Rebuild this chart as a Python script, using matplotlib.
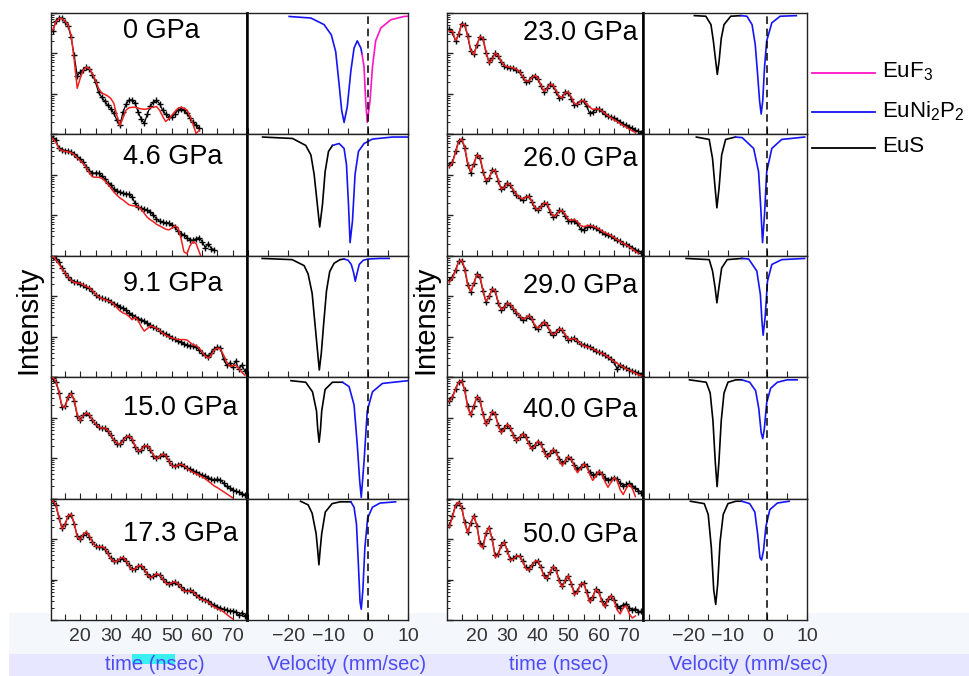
import numpy as np
import matplotlib
matplotlib.use('Agg')
import matplotlib.pyplot as plt
from matplotlib.ticker import (MultipleLocator, FixedLocator, LogLocator, NullFormatter,
                               NullLocator)
from matplotlib.patches import Rectangle
from matplotlib.lines import Line2D

plt.rcParams['font.family'] = ['Liberation Sans', 'DejaVu Sans']
plt.rcParams['mathtext.fontset'] = 'custom'
plt.rcParams['mathtext.rm'] = 'Liberation Sans'
plt.rcParams['mathtext.it'] = 'Liberation Sans:italic'
plt.rcParams['mathtext.bf'] = 'Liberation Sans:bold'

# ---------------- data ----------------
time_ns = list(range(11, 75))   # sampling times (ns) of the values below
time_ticks = [20, 30, 40, 50, 60, 70]
vel_ticks = [-20, -10, 0, 10]

pressures_left = ['0 GPa', '4.6 GPa', '9.1 GPa', '15.0 GPa', '17.3 GPa']
pressures_right = ['23.0 GPa', '26.0 GPa', '29.0 GPa', '40.0 GPa', '50.0 GPa']

# log10 intensity (arb.) : measured data and fit
p00_dat = [2.55, 2.80, 2.88, 2.87, 2.78, 2.68, 2.40, 1.95, 1.45, 1.54, 1.60, 1.66, 1.62, 1.48, 1.29, 1.04, 0.92, 0.82, 0.72, 0.64, 0.52, 0.35, 0.22, 0.55, 0.74, 0.85, 0.85, 0.77, 0.55, 0.38, 0.27, 0.50, 0.70, 0.80, 0.84, 0.76, 0.60, 0.50, 0.44, 0.42, 0.50, 0.60, 0.64, 0.60, 0.52, 0.40, 0.30, 0.22, 0.15]
p00_fit = [2.58, 2.78, 2.87, 2.86, 2.80, 2.70, 2.45, 1.85, 1.14, 1.39, 1.59, 1.66, 1.63, 1.50, 1.34, 1.14, 1.02, 0.99, 0.95, 0.89, 0.77, 0.47, 0.22, 0.40, 0.60, 0.66, 0.67, 0.67, 0.65, 0.63, 0.62, 0.63, 0.66, 0.67, 0.69, 0.60, 0.45, 0.32, 0.38, 0.47, 0.56, 0.64, 0.67, 0.65, 0.60, 0.45, 0.25, 0.02, 0.10]

p46_dat = [2.92, 2.85, 2.66, 2.62, 2.60, 2.59, 2.56, 2.52, 2.45, 2.38, 2.31, 2.20, 2.10, 2.04, 2.05, 2.04, 1.98, 1.90, 1.80, 1.75, 1.65, 1.60, 1.57, 1.55, 1.53, 1.52, 1.45, 1.30, 1.20, 1.18, 1.15, 1.12, 1.09, 1.00, 0.92, 0.85, 0.83, 0.82, 0.81, 0.76, 0.70, 0.62, 0.55, 0.52, 0.45, 0.40, 0.38, 0.42, 0.45, 0.35, 0.20, 0.30, 0.18, 0.15]
p46_fit = [2.90, 2.80, 2.65, 2.60, 2.58, 2.57, 2.55, 2.50, 2.42, 2.35, 2.28, 2.18, 2.05, 1.95, 1.94, 1.94, 1.92, 1.86, 1.78, 1.68, 1.58, 1.50, 1.43, 1.38, 1.32, 1.26, 1.24, 1.23, 1.21, 1.15, 1.05, 0.95, 0.89, 0.84, 0.78, 0.74, 0.70, 0.66, 0.64, 0.68, 0.74, 0.70, 0.45, 0.10, 0.05, 0.25, 0.35, 0.30, 0.10, -0.10]

p91_dat = [3.00, 2.93, 2.85, 2.70, 2.58, 2.47, 2.40, 2.36, 2.35, 2.31, 2.27, 2.23, 2.20, 2.12, 2.04, 1.98, 1.95, 1.93, 1.90, 1.86, 1.82, 1.78, 1.74, 1.71, 1.65, 1.58, 1.54, 1.50, 1.45, 1.42, 1.39, 1.33, 1.28, 1.24, 1.21, 1.15, 1.10, 1.06, 1.02, 0.97, 0.94, 0.90, 0.86, 0.82, 0.80, 0.78, 0.76, 0.74, 0.68, 0.60, 0.55, 0.50, 0.60, 0.70, 0.74, 0.72, 0.45, 0.30, 0.35, 0.25, 0.40, 0.20, 0.30, 0.15]
p91_fit = [3.00, 2.90, 2.80, 2.68, 2.58, 2.48, 2.39, 2.34, 2.33, 2.32, 2.28, 2.24, 2.21, 2.14, 2.05, 1.98, 1.95, 1.92, 1.89, 1.86, 1.80, 1.72, 1.64, 1.59, 1.56, 1.50, 1.42, 1.48, 1.40, 1.25, 1.14, 1.20, 1.27, 1.24, 1.21, 1.15, 1.09, 1.04, 1.00, 0.97, 0.95, 0.93, 0.93, 0.93, 0.92, 0.86, 0.80, 0.78, 0.72, 0.62, 0.52, 0.47, 0.55, 0.68, 0.72, 0.70, 0.55, 0.38, 0.27, 0.28, 0.30, 0.22, 0.12, 0.05]

p150_dat = [2.98, 2.88, 2.62, 2.26, 2.28, 2.52, 2.60, 2.42, 2.05, 1.94, 2.06, 2.11, 2.06, 1.93, 1.84, 1.76, 1.75, 1.74, 1.68, 1.56, 1.44, 1.36, 1.35, 1.44, 1.53, 1.54, 1.46, 1.28, 1.18, 1.21, 1.31, 1.30, 1.20, 1.06, 1.00, 1.05, 1.09, 1.05, 0.94, 0.83, 0.80, 0.83, 0.86, 0.80, 0.76, 0.72, 0.68, 0.66, 0.62, 0.58, 0.55, 0.52, 0.48, 0.46, 0.48, 0.46, 0.38, 0.30, 0.25, 0.22, 0.18, 0.17, 0.12, 0.10]
p150_fit = [3.00, 2.90, 2.65, 2.28, 2.25, 2.50, 2.60, 2.45, 2.08, 1.92, 2.05, 2.12, 2.08, 1.95, 1.85, 1.77, 1.74, 1.75, 1.70, 1.58, 1.45, 1.37, 1.34, 1.42, 1.52, 1.55, 1.48, 1.30, 1.17, 1.20, 1.30, 1.31, 1.22, 1.07, 0.98, 1.04, 1.10, 1.07, 0.95, 0.82, 0.78, 0.82, 0.85, 0.82, 0.75, 0.69, 0.65, 0.61, 0.58, 0.54, 0.49, 0.43, 0.37, 0.31, 0.27, 0.22, 0.17, 0.12, 0.07, 0.02]

p173_dat = [2.93, 2.83, 2.52, 2.27, 2.37, 2.57, 2.60, 2.38, 2.07, 2.00, 2.11, 2.16, 2.06, 1.93, 1.84, 1.81, 1.81, 1.76, 1.65, 1.53, 1.46, 1.46, 1.51, 1.53, 1.46, 1.35, 1.26, 1.27, 1.33, 1.33, 1.25, 1.13, 1.06, 1.09, 1.13, 1.10, 1.02, 0.94, 0.90, 0.92, 0.94, 0.89, 0.81, 0.75, 0.72, 0.73, 0.70, 0.63, 0.56, 0.52, 0.50, 0.47, 0.40, 0.36, 0.32, 0.30, 0.26, 0.24, 0.22, 0.23, 0.20, 0.12, 0.18, 0.10]
p173_fit = [2.95, 2.85, 2.55, 2.25, 2.35, 2.58, 2.62, 2.40, 2.05, 1.98, 2.12, 2.18, 2.08, 1.92, 1.82, 1.80, 1.82, 1.78, 1.66, 1.52, 1.44, 1.45, 1.52, 1.55, 1.48, 1.34, 1.24, 1.26, 1.34, 1.35, 1.26, 1.12, 1.04, 1.08, 1.14, 1.12, 1.02, 0.92, 0.88, 0.92, 0.95, 0.90, 0.80, 0.72, 0.70, 0.72, 0.70, 0.62, 0.54, 0.50, 0.48, 0.44, 0.37, 0.32, 0.28, 0.25, 0.20, 0.14, 0.08, 0.03]

p230_dat = [2.60, 2.52, 2.30, 2.48, 2.74, 2.70, 2.42, 2.05, 1.98, 2.22, 2.40, 2.35, 2.02, 1.78, 1.88, 2.00, 1.94, 1.78, 1.69, 1.66, 1.65, 1.63, 1.60, 1.54, 1.42, 1.30, 1.33, 1.42, 1.45, 1.37, 1.20, 1.06, 1.14, 1.25, 1.20, 1.05, 0.90, 0.92, 1.05, 1.03, 0.88, 0.72, 0.76, 0.83, 0.82, 0.70, 0.52, 0.55, 0.62, 0.64, 0.57, 0.50, 0.46, 0.43, 0.40, 0.36, 0.30, 0.25, 0.22, 0.18, 0.15, 0.10, 0.08, 0.04]
p230_fit = [2.55, 2.55, 2.32, 2.45, 2.72, 2.72, 2.45, 2.08, 1.97, 2.20, 2.42, 2.38, 2.05, 1.76, 1.85, 2.01, 1.96, 1.80, 1.70, 1.67, 1.66, 1.64, 1.61, 1.56, 1.44, 1.32, 1.31, 1.40, 1.46, 1.40, 1.22, 1.07, 1.12, 1.24, 1.22, 1.08, 0.94, 0.90, 1.03, 1.05, 0.92, 0.76, 0.74, 0.82, 0.84, 0.76, 0.67, 0.62, 0.63, 0.63, 0.58, 0.52, 0.46, 0.41, 0.36, 0.32, 0.27, 0.22, 0.18, 0.13, 0.09, 0.05]

p260_dat = [2.25, 2.32, 2.58, 2.84, 2.88, 2.66, 2.25, 2.05, 2.28, 2.50, 2.42, 2.08, 1.84, 1.92, 2.12, 2.10, 1.85, 1.64, 1.70, 1.80, 1.74, 1.60, 1.50, 1.42, 1.38, 1.46, 1.47, 1.34, 1.17, 1.12, 1.22, 1.30, 1.27, 1.08, 0.96, 1.02, 1.12, 1.10, 0.98, 0.86, 0.85, 0.86, 0.80, 0.66, 0.64, 0.70, 0.74, 0.72, 0.68, 0.63, 0.58, 0.55, 0.52, 0.48, 0.44, 0.40, 0.36, 0.30, 0.28, 0.24, 0.20, 0.15, 0.12, 0.08]
p260_fit = [2.20, 2.30, 2.55, 2.82, 2.89, 2.70, 2.30, 2.08, 2.25, 2.50, 2.45, 2.12, 1.86, 1.90, 2.10, 2.12, 1.88, 1.65, 1.68, 1.79, 1.76, 1.62, 1.52, 1.44, 1.40, 1.45, 1.47, 1.36, 1.20, 1.13, 1.20, 1.30, 1.30, 1.12, 0.98, 1.00, 1.10, 1.12, 1.02, 0.90, 0.88, 0.90, 0.84, 0.75, 0.72, 0.74, 0.75, 0.73, 0.70, 0.66, 0.61, 0.57, 0.54, 0.50, 0.45, 0.40, 0.35, 0.31, 0.27, 0.22, 0.17, 0.11, 0.06]

p290_dat = [2.40, 2.48, 2.65, 2.86, 2.88, 2.66, 2.27, 2.10, 2.32, 2.55, 2.47, 2.12, 1.86, 2.00, 2.18, 2.12, 1.83, 1.66, 1.74, 1.84, 1.78, 1.68, 1.58, 1.50, 1.42, 1.47, 1.52, 1.43, 1.25, 1.20, 1.30, 1.37, 1.28, 1.12, 1.04, 1.12, 1.20, 1.16, 1.03, 0.92, 0.95, 0.97, 0.90, 0.82, 0.80, 0.78, 0.75, 0.70, 0.65, 0.62, 0.60, 0.56, 0.50, 0.44, 0.38, 0.20, 0.30, 0.26, 0.22, 0.18, 0.16, 0.12, 0.10, 0.06]
p290_fit = [2.35, 2.45, 2.62, 2.85, 2.90, 2.70, 2.30, 2.12, 2.30, 2.54, 2.50, 2.15, 1.88, 1.98, 2.18, 2.15, 1.86, 1.67, 1.72, 1.83, 1.80, 1.70, 1.60, 1.52, 1.44, 1.46, 1.53, 1.46, 1.28, 1.21, 1.28, 1.37, 1.30, 1.14, 1.05, 1.10, 1.19, 1.18, 1.05, 0.93, 0.94, 0.96, 0.90, 0.83, 0.78, 0.75, 0.73, 0.70, 0.66, 0.62, 0.59, 0.55, 0.50, 0.45, 0.39, 0.34, 0.30, 0.25, 0.21, 0.17, 0.14, 0.10, 0.06, 0.03]

p400_dat = [2.42, 2.52, 2.72, 2.88, 2.90, 2.68, 2.28, 2.08, 2.30, 2.50, 2.42, 2.10, 1.86, 1.96, 2.13, 2.08, 1.82, 1.66, 1.74, 1.82, 1.74, 1.57, 1.46, 1.52, 1.60, 1.53, 1.38, 1.26, 1.32, 1.41, 1.35, 1.18, 1.06, 1.12, 1.21, 1.14, 0.98, 0.87, 0.93, 1.02, 0.97, 0.82, 0.72, 0.78, 0.86, 0.80, 0.66, 0.58, 0.60, 0.66, 0.62, 0.52, 0.45, 0.48, 0.52, 0.48, 0.38, 0.32, 0.35, 0.38, 0.32, 0.25, 0.20, 0.15]
p400_fit = [2.40, 2.50, 2.70, 2.88, 2.92, 2.70, 2.25, 2.05, 2.28, 2.52, 2.45, 2.08, 1.82, 1.95, 2.15, 2.10, 1.80, 1.62, 1.72, 1.84, 1.76, 1.55, 1.42, 1.50, 1.60, 1.55, 1.36, 1.22, 1.30, 1.42, 1.36, 1.15, 1.02, 1.10, 1.22, 1.15, 0.95, 0.82, 0.92, 1.04, 0.98, 0.78, 0.64, 0.74, 0.86, 0.80, 0.60, 0.45, 0.55, 0.68, 0.62, 0.42, 0.28, 0.40, 0.52, 0.45, 0.22, 0.10, 0.25, 0.35, 0.25, 0.05]

p500_dat = [2.35, 2.58, 2.84, 2.90, 2.78, 2.42, 2.18, 2.40, 2.56, 2.33, 1.90, 1.84, 2.15, 2.28, 2.00, 1.60, 1.64, 1.86, 1.92, 1.70, 1.50, 1.52, 1.58, 1.58, 1.46, 1.30, 1.25, 1.35, 1.44, 1.45, 1.30, 1.10, 1.05, 1.18, 1.31, 1.24, 0.98, 0.85, 0.98, 1.08, 0.90, 0.66, 0.72, 0.88, 0.92, 0.70, 0.50, 0.58, 0.76, 0.70, 0.48, 0.38, 0.52, 0.60, 0.50, 0.35, 0.30, 0.38, 0.40, 0.30, 0.25, 0.28, 0.20, 0.22]
p500_fit = [2.30, 2.55, 2.82, 2.92, 2.80, 2.40, 2.14, 2.40, 2.58, 2.35, 1.85, 1.78, 2.15, 2.30, 2.00, 1.55, 1.60, 1.85, 1.93, 1.70, 1.47, 1.50, 1.58, 1.59, 1.45, 1.28, 1.22, 1.34, 1.45, 1.47, 1.30, 1.08, 1.02, 1.18, 1.32, 1.25, 0.95, 0.81, 0.98, 1.10, 0.90, 0.62, 0.68, 0.88, 0.92, 0.68, 0.44, 0.55, 0.76, 0.70, 0.45, 0.32, 0.50, 0.61, 0.48, 0.25, 0.15, 0.30, 0.35, 0.15, 0.05, 0.10]

# velocity spectra (relative transmission), by component
v00_ni = [-19.75, -14.3, -11.0, -9.2, -8.1, -7.25, -6.6, -6.0, -5.2, -4.3, -3.5, -2.7, -1.8, -1.5]
T00_ni = [0.983, 0.97, 0.915, 0.83, 0.69, 0.42, 0.20, 0.10, 0.23, 0.53, 0.72, 0.78, 0.72, 0.67]
v00_f3 = [-1.5, -1.0, -0.6, -0.2, 0.5, 1.1, 1.9, 3.2, 5.7, 9.0, 10.0]
T00_f3 = [0.67, 0.56, 0.28, 0.10, 0.28, 0.56, 0.78, 0.887, 0.956, 0.983, 0.985]

v46_s = [-26.4, -18.9, -15.6, -14.3, -13.5, -12.7, -12.1, -11.4, -10.75, -9.9, -8.9]
T46_s = [0.99, 0.978, 0.92, 0.84, 0.68, 0.43, 0.24, 0.43, 0.70, 0.87, 0.92]
v46_ni = [-8.9, -7.25, -6.0, -5.4, -4.9, -4.5, -3.9, -3.25, -2.4, -1.0, 1.1, 6.1, 10.0]
T46_ni = [0.92, 0.936, 0.895, 0.76, 0.43, 0.11, 0.29, 0.68, 0.87, 0.936, 0.973, 0.99, 0.99]

v91_s = [-26.5, -19.0, -16.0, -15.0, -14.0, -13.3, -12.6, -12.2, -11.7, -11.1, -10.4, -9.6, -8.5, -7.0, -6.0]
T91_s = [0.99, 0.98, 0.93, 0.86, 0.70, 0.45, 0.20, 0.06, 0.20, 0.45, 0.72, 0.88, 0.95, 0.98, 0.985]
v91_ni = [-6.0, -5.0, -4.2, -3.6, -3.2, -2.8, -2.2, -1.2, 0.0, 3.0, 5.3]
T91_ni = [0.985, 0.975, 0.94, 0.87, 0.80, 0.86, 0.94, 0.975, 0.985, 0.99, 0.99]

v150_s = [-19.3, -15.6, -13.9, -12.9, -12.6, -12.25, -11.9, -11.6, -10.75, -8.9, -6.4]
T150_s = [0.983, 0.97, 0.89, 0.73, 0.58, 0.47, 0.58, 0.73, 0.91, 0.97, 0.97]
v150_ni = [-6.4, -4.75, -3.5, -2.7, -2.1, -1.7, -1.0, -0.2, 1.1, 3.6, 10.0]
T150_ni = [0.97, 0.934, 0.78, 0.45, 0.15, 0.01, 0.31, 0.73, 0.89, 0.96, 0.983]

v173_s = [-16.9, -15.0, -14.0, -13.0, -12.6, -12.3, -12.0, -11.6, -10.7, -9.0, -7.0, -4.3]
T173_s = [0.99, 0.96, 0.89, 0.72, 0.58, 0.46, 0.58, 0.72, 0.90, 0.97, 0.985, 0.985]
v173_ni = [-4.3, -3.5, -2.9, -2.4, -2.0, -1.7, -1.3, -0.8, -0.1, 1.1, 3.0, 6.9]
T173_ni = [0.985, 0.94, 0.80, 0.45, 0.15, 0.09, 0.25, 0.60, 0.85, 0.94, 0.975, 0.985]

v230_s = [-18.5, -15.6, -14.3, -13.7, -13.1, -12.7, -12.25, -11.7, -11.0, -9.3, -6.8]
T230_s = [0.99, 0.985, 0.915, 0.78, 0.61, 0.50, 0.61, 0.80, 0.915, 0.985, 0.99]
v230_ni = [-6.8, -5.2, -3.9, -3.1, -2.5, -2.0, -1.6, -1.2, -0.75, -0.2, 1.1, 3.2, 7.3]
T230_ni = [0.99, 0.985, 0.915, 0.75, 0.50, 0.28, 0.17, 0.28, 0.56, 0.78, 0.93, 0.985, 0.99]

v260_s = [-18.0, -14.75, -13.9, -13.25, -12.8, -12.25, -11.6, -10.6, -8.1]
T260_s = [0.99, 0.97, 0.81, 0.565, 0.40, 0.565, 0.84, 0.97, 0.99]
v260_ni = [-8.1, -6.4, -3.5, -2.25, -1.7, -1.25, -0.75, -0.2, 1.1, 3.6, 9.4]
T260_ni = [0.99, 0.985, 0.895, 0.70, 0.40, 0.11, 0.345, 0.70, 0.895, 0.97, 0.99]

v290_s = [-20.6, -14.75, -13.9, -13.25, -12.8, -12.3, -11.6, -10.2, -6.4]
T290_s = [0.99, 0.98, 0.885, 0.745, 0.62, 0.745, 0.91, 0.98, 0.99]
v290_ni = [-6.4, -4.75, -2.7, -1.8, -1.4, -1.1, -0.6, 0.0, 1.1, 3.6, 9.4]
T290_ni = [0.99, 0.985, 0.885, 0.69, 0.47, 0.35, 0.50, 0.80, 0.94, 0.98, 0.99]

v400_s = [-19.75, -15.5, -14.5, -13.8, -13.2, -12.75, -12.3, -11.7, -11.0, -10.0, -8.0, -6.5]
T400_s = [0.99, 0.97, 0.88, 0.65, 0.30, 0.10, 0.30, 0.65, 0.88, 0.97, 0.99, 0.99]
v400_ni = [-6.5, -4.5, -3.0, -2.2, -1.6, -1.2, -0.8, -0.2, 0.8, 2.5, 5.0, 7.5]
T400_ni = [0.99, 0.97, 0.90, 0.75, 0.55, 0.50, 0.58, 0.80, 0.92, 0.97, 0.99, 0.99]

v500_s = [-19.5, -16.0, -15.0, -14.2, -13.6, -13.1, -12.6, -12.0, -11.2, -10.0, -8.0, -6.5]
T500_s = [0.99, 0.97, 0.88, 0.60, 0.25, 0.13, 0.30, 0.65, 0.88, 0.97, 0.99, 0.99]
v500_ni = [-6.5, -4.5, -3.2, -2.5, -1.9, -1.5, -1.0, -0.4, 0.6, 2.5, 5.5]
T500_ni = [0.99, 0.97, 0.90, 0.72, 0.52, 0.50, 0.58, 0.78, 0.92, 0.975, 0.99]

legend_labels = ['EuF$_3$', 'EuNi$_2$P$_2$', 'EuS']

# ---------------- styling ----------------
C_EUF3 = '#ff14c8'
C_NI = '#1414f5'
C_S = '#000000'
C_FIT = '#ee2020'
C_AXLAB = '#4c4cf2'

W, H = 970, 676
fig = plt.figure(figsize=(W / 100, H / 100), dpi=100)


def fx(px):
    return px / W


def fy(py):
    return 1 - py / H


# pale bands at the bottom of the picture
fig.patches.append(Rectangle((fx(9), fy(654)), fx(961), 41 / H, transform=fig.transFigure,
                             facecolor='#f4f7fc', edgecolor='none', zorder=-10))
fig.patches.append(Rectangle((fx(9), fy(676)), fx(961), 22 / H, transform=fig.transFigure,
                             facecolor='#e7e7ff', edgecolor='none', zorder=-10))
fig.patches.append(Rectangle((fx(132), fy(664)), fx(43), 10 / H, transform=fig.transFigure,
                             facecolor='#3af0f0', edgecolor='none', zorder=-9))

row_tops = [13, 134.4, 255.8, 377.2, 498.6]
row_h = 121.4

groups = [
    dict(t_left=51, t_w=196, v_left=247, v_w=161, t_lim=(10.4, 74.7), v_lim=(-30.3, 10.0),
         labels=pressures_left, lab_x=0.367, lab_y=[0.85, 0.81, 0.77, 0.75, 0.71],
         tdata=[(p00_dat, p00_fit), (p46_dat, p46_fit), (p91_dat, p91_fit),
                (p150_dat, p150_fit), (p173_dat, p173_fit)],
         vdata=[[(v00_ni, T00_ni, C_NI), (v00_f3, T00_f3, C_EUF3)],
                [(v46_s, T46_s, C_S), (v46_ni, T46_ni, C_NI)],
                [(v91_s, T91_s, C_S), (v91_ni, T91_ni, C_NI)],
                [(v150_s, T150_s, C_S), (v150_ni, T150_ni, C_NI)],
                [(v173_s, T173_s, C_S), (v173_ni, T173_ni, C_NI)]]),
    dict(t_left=447, t_w=196, v_left=643, v_w=164, t_lim=(10.2, 74.5), v_lim=(-31.5, 10.0),
         labels=pressures_right, lab_x=0.388, lab_y=[0.835, 0.80, 0.75, 0.73, 0.70],
         tdata=[(p230_dat, p230_fit), (p260_dat, p260_fit), (p290_dat, p290_fit),
                (p400_dat, p400_fit), (p500_dat, p500_fit)],
         vdata=[[(v230_s, T230_s, C_S), (v230_ni, T230_ni, C_NI)],
                [(v260_s, T260_s, C_S), (v260_ni, T260_ni, C_NI)],
                [(v290_s, T290_s, C_S), (v290_ni, T290_ni, C_NI)],
                [(v400_s, T400_s, C_S), (v400_ni, T400_ni, C_NI)],
                [(v500_s, T500_s, C_S), (v500_ni, T500_ni, C_NI)]]),
]

for g in groups:
    for r in range(5):
        top = row_tops[r]
        bottom = r == 4
        # ---- time panel ----
        axt = fig.add_axes([fx(g['t_left']), fy(top + row_h), fx(g['t_w']), row_h / H])
        dat, fit = g['tdata'][r]
        td = time_ns[:len(dat)]
        tf = time_ns[:len(fit)]
        axt.plot(td, np.power(10.0, dat), '-', color='k', lw=0.9, zorder=2)
        axt.plot(td, np.power(10.0, dat), '+', color='k', ms=5, mew=1.0, zorder=2)
        axt.plot(tf, np.power(10.0, fit), '-', color=C_FIT, lw=1.1, zorder=3)
        axt.set_yscale('log')
        axt.set_ylim(1, 1000)
        axt.set_xlim(*g['t_lim'])
        axt.yaxis.set_major_locator(LogLocator(base=10))
        axt.yaxis.set_minor_locator(LogLocator(base=10, subs=range(2, 10)))
        axt.yaxis.set_major_formatter(NullFormatter())
        axt.yaxis.set_minor_formatter(NullFormatter())
        axt.xaxis.set_major_locator(FixedLocator(time_ticks))
        axt.xaxis.set_minor_locator(MultipleLocator(5))
        axt.tick_params(axis='both', which='both', direction='in', colors='#222222',
                        labelcolor='#333333', labelsize=14, pad=6)
        axt.tick_params(axis='y', which='major', length=4, width=1)
        axt.tick_params(axis='y', which='minor', length=2, width=0.7)
        axt.tick_params(axis='x', which='both', length=4, width=0.8)
        if not bottom:
            axt.xaxis.set_major_formatter(NullFormatter())
        for s in ['left', 'top', 'bottom']:
            axt.spines[s].set_linewidth(1.0)
            axt.spines[s].set_color('#222222')
        axt.spines['right'].set_linewidth(1.8)
        axt.text(g['lab_x'], g['lab_y'][r], g['labels'][r], transform=axt.transAxes,
                 ha='left', va='center', fontsize=19.5, color='k', zorder=5)

        # ---- velocity panel ----
        axv = fig.add_axes([fx(g['v_left']), fy(top + row_h), fx(g['v_w']), row_h / H])
        for vv, TT, cc in g['vdata'][r]:
            axv.plot(vv, TT, '-', color=cc, lw=1.2)
        axv.axvline(0, color='k', lw=1.1, ls=(0, (5, 3)))
        axv.set_xlim(*g['v_lim'])
        axv.set_ylim(0, 1.012)
        axv.yaxis.set_major_locator(NullLocator())
        axv.xaxis.set_major_locator(FixedLocator(vel_ticks))
        axv.xaxis.set_minor_locator(MultipleLocator(5))
        axv.tick_params(axis='x', which='both', direction='in', length=4, width=0.8,
                        colors='#222222', labelcolor='#333333', labelsize=14, pad=6)
        if not bottom:
            axv.xaxis.set_major_formatter(NullFormatter())
        for s in ['right', 'top', 'bottom']:
            axv.spines[s].set_linewidth(1.0)
            axv.spines[s].set_color('#222222')
        axv.spines['left'].set_linewidth(1.8)

# axis titles
fig.text(fx(28), fy(320), 'Intensity', rotation=90, fontsize=21, ha='center', va='center')
fig.text(fx(425), fy(320), 'Intensity', rotation=90, fontsize=21, ha='center', va='center')
fig.text(fx(155), fy(665), 'time (nsec)', fontsize=14.5, color=C_AXLAB, ha='center', va='center')
fig.text(fx(347), fy(665), 'Velocity (mm/sec)', fontsize=14.5, color=C_AXLAB, ha='center', va='center')
fig.text(fx(559), fy(665), 'time (nsec)', fontsize=14.5, color=C_AXLAB, ha='center', va='center')
fig.text(fx(749), fy(665), 'Velocity (mm/sec)', fontsize=14.5, color=C_AXLAB, ha='center', va='center')

# legend
leg_colors = [C_EUF3, C_NI, C_S]
leg_y = [73, 112, 148]
for lab, col, ly in zip(legend_labels, leg_colors, leg_y):
    fig.add_artist(Line2D([fx(812), fx(875)], [fy(ly), fy(ly)], color=col, lw=1.3,
                          transform=fig.transFigure))
    fig.text(fx(882), fy(ly - 1), lab, fontsize=16, ha='left', va='center', color='k')

fig.savefig('out.png', dpi=100)
